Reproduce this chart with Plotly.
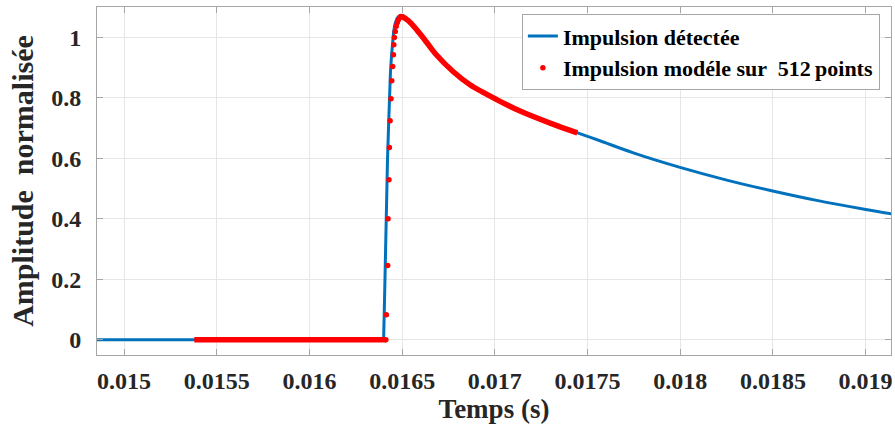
import plotly.graph_objects as go

# ---- data ----
# Detected pulse (blue)
blue_t = [0.01480, 0.016400, 0.016405, 0.016410, 0.016416, 0.016421, 0.016427,
          0.016432, 0.016437, 0.016443, 0.016448, 0.016454, 0.016462, 0.016473,
          0.016486, 0.016498]
blue_v = [0.0, 0.0, 0.132, 0.298, 0.463, 0.595, 0.711,
          0.810, 0.886, 0.942, 0.985, 1.018, 1.045, 1.063,
          1.071, 1.070]
blue_decay_t = [0.016498, 0.016533, 0.016570, 0.016606, 0.016641, 0.016683,
                0.016776, 0.016866, 0.017010, 0.017136, 0.017316, 0.017442,
                0.017567, 0.017747, 0.017999, 0.018251, 0.018499, 0.018736,
                0.019001, 0.019146]
blue_decay_v = [1.070, 1.055, 1.031, 1.004, 0.976, 0.943,
                0.886, 0.843, 0.794, 0.756, 0.712, 0.685,
                0.658, 0.618, 0.570, 0.528, 0.492, 0.461,
                0.431, 0.416]

# Model pulse on 512 points (red)
red_flat_t = [0.015379, 0.016412]
red_flat_v = [0.0, 0.0]
red_rise_t = [0.016412, 0.016415, 0.016422, 0.016424, 0.016429, 0.016431,
              0.016435, 0.016440, 0.016444, 0.016449, 0.016453, 0.016455,
              0.016458, 0.016463, 0.016468, 0.016474, 0.016480, 0.016487,
              0.016494]
red_rise_v = [0.0, 0.083, 0.246, 0.400, 0.529, 0.636,
              0.724, 0.797, 0.856, 0.903, 0.942, 0.975,
              0.999, 1.019, 1.036, 1.049, 1.058, 1.065,
              1.069]
red_decay_t = [0.016498, 0.016533, 0.016570, 0.016606, 0.016641, 0.016683,
               0.016776, 0.016866, 0.017010, 0.017136, 0.017316, 0.017445]
red_decay_v = [1.070, 1.055, 1.031, 1.004, 0.976, 0.943,
               0.886, 0.843, 0.794, 0.756, 0.712, 0.684]

x_ticks = [0.015, 0.0155, 0.016, 0.0165, 0.017, 0.0175, 0.018, 0.0185, 0.019]
x_tick_labels = ["0.015", "0.0155", "0.016", "0.0165", "0.017", "0.0175",
                 "0.018", "0.0185", "0.019"]
y_ticks = [0, 0.2, 0.4, 0.6, 0.8, 1.0]
y_tick_labels = ["0", "0.2", "0.4", "0.6", "0.8", "1"]

BLUE = "#0072BD"
RED = "#FF0000"
FONT = "Liberation Serif, Times New Roman, serif"

fig = go.Figure()
fig.add_trace(go.Scatter(x=blue_t, y=blue_v, mode="lines",
                         line=dict(color=BLUE, width=3),
                         name="Impulsion détectée", legendrank=1))
fig.add_trace(go.Scatter(x=blue_decay_t, y=blue_decay_v, mode="lines",
                         line=dict(color=BLUE, width=3, shape="spline", smoothing=0.8),
                         showlegend=False))
fig.add_trace(go.Scatter(x=red_flat_t, y=red_flat_v, mode="lines",
                         line=dict(color=RED, width=5.5), showlegend=False))
fig.add_trace(go.Scatter(x=red_decay_t, y=red_decay_v, mode="lines",
                         line=dict(color=RED, width=5.5, shape="spline", smoothing=0.8),
                         showlegend=False))
fig.add_trace(go.Scatter(x=red_rise_t, y=red_rise_v, mode="markers",
                         marker=dict(color=RED, size=5.5, line=dict(width=0)),
                         name="Impulsion modéle sur \u00a0512\u2009points", legendrank=2))

axis_common = dict(
    automargin=False,
    showline=True, linecolor="#a6a6a6", linewidth=1, mirror="ticks",
    ticks="inside", ticklen=6, tickcolor="#a6a6a6", tickwidth=1,
    showgrid=True, gridcolor="#e6e6e6", gridwidth=1, zeroline=False,
    tickfont=dict(family=FONT, size=24, color="#262626", weight="bold"),
)

fig.update_xaxes(range=[0.014854, 0.019137], tickvals=x_ticks, ticktext=x_tick_labels,
                 ticklabelstandoff=4,
                 title=dict(text="Temps (s)", standoff=2,
                            font=dict(family=FONT, size=27, color="#262626", weight="bold")),
                 **axis_common)
fig.update_yaxes(range=[-0.05, 1.1], tickvals=y_ticks, ticktext=y_tick_labels,
                 ticklabelstandoff=10,
                 title=dict(text="Amplitude  normalisée", standoff=8,
                            font=dict(family=FONT, size=30, color="#262626", weight="bold")),
                 **axis_common)

fig.update_layout(
    width=895, height=425,
    margin=dict(l=97, r=4, t=7, b=70),
    paper_bgcolor="white", plot_bgcolor="white",
    font=dict(family=FONT, color="#262626", weight="bold"),
    legend=dict(x=0.986, y=0.979, xanchor="right", yanchor="top",
                bgcolor="white", bordercolor="#a6a6a6", borderwidth=1,
                font=dict(family=FONT, size=22, color="black", weight="bold"),
                tracegroupgap=0, itemwidth=30),
    showlegend=True,
)

fig.write_html("out.html", config={"displayModeBar": False},
               post_script="document.body.style.margin='0';document.body.style.padding='0';")
